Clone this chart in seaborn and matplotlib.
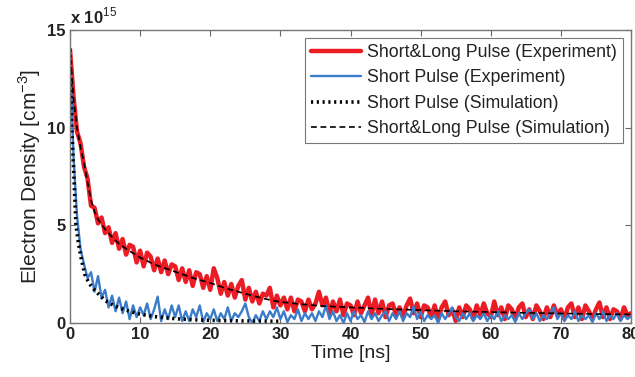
import numpy as np
import pandas as pd
import matplotlib
matplotlib.use("Agg")
import matplotlib.pyplot as plt
import seaborn as sns

# ---------------- data (electron density in units of 1e15 cm^-3) ----------------
time_exp = [i * 0.5 for i in range(161)]  # 0 .. 80 ns, 0.5 ns step

red_exp = [
    14.0, 11.6, 9.8, 9.2, 8.0, 7.4, 6.0, 5.9, 5.1, 5.4,
    4.6, 4.9, 4.1, 4.6, 3.8, 4.3, 3.5, 4.0, 3.9, 3.1,
    3.7, 2.9, 3.6, 3.4, 2.7, 3.3, 2.6, 3.2, 2.5, 3.0,
    2.9, 2.2, 2.8, 2.1, 2.7, 1.9, 2.6, 2.5, 1.8, 2.4,
    1.7, 2.8, 2.3, 1.5, 2.1, 1.4, 2.0, 1.3, 1.9, 2.2,
    1.2, 1.8, 1.1, 1.6, 1.0, 1.5, 1.4, 1.8, 0.8, 1.4,
    0.9, 1.3, 0.7, 1.3, 0.6, 1.2, 1.1, 0.6, 1.2, 0.7,
    1.0, 1.6, 0.9, 1.3, 0.5, 1.1, 0.6, 1.2, 0.4, 1.0,
    0.9, 0.4, 1.1, 0.5, 0.9, 1.3, 0.4, 1.2, 0.5, 1.1,
    0.3, 0.9, 1.0, 0.4, 0.8, 0.3, 0.9, 1.25, 0.5, 1.0,
    0.3, 0.9, 0.8, 0.3, 0.9, 0.2, 0.8, 1.1, 0.4, 0.7,
    0.1, 0.8, 0.3, 0.9, 0.7, 0.2, 0.9, 0.4, 1.0, 0.5,
    0.3, 1.1, 0.4, 0.8, 0.2, 0.9, 0.7, 0.2, 0.8, 1.0,
    0.3, 0.7, 0.2, 0.9, 0.6, 0.2, 0.8, 0.3, 0.9, 0.4,
    0.7, 0.2, 0.8, 1.0, 0.3, 0.8, 0.2, 0.9, 0.6, 0.2,
    0.7, 1.05, 0.3, 0.8, 0.2, 0.7, 0.6, 0.2, 0.8, 0.4,
    0.5,
]

blue_exp = [
    14.0, 8.5, 5.5, 3.8, 3.0, 2.3, 2.6, 1.6, 2.4, 1.3,
    1.7, 0.8, 1.4, 0.6, 1.3, 0.5, 1.1, 0.2, 0.9, 0.3,
    0.8, 0.4, 1.0, 0.2, 0.7, 1.35, 0.1, 0.7, 0.2, 0.9,
    0.3, 0.9, 0.1, 0.6, 0.1, 0.7, 0.3, 0.9, 0.05, 0.5,
    0.2, 0.7, 0.1, 0.5, 0.2, 0.8, 0.1, 0.5, 0.3, 0.6,
    1.0, 0.3, 0.0, 0.4, 0.1, 0.6, 0.2, 0.6, 0.3, 0.8,
    0.2, 0.6, 0.05, 0.4, 0.2, 0.7, 0.1, 0.5, 0.2, 0.5,
    0.1, 0.6, 0.3, 0.9, 0.2, 0.6, 0.1, 0.4, 0.0, 0.5,
    0.1, 0.6, 0.2, 0.4, 0.05, 0.6, 0.2, 0.5, 0.1, 0.4,
    0.6, 0.1, 0.5, 0.2, 0.6, 0.1, 0.5, 0.3, 0.85, 0.2,
    0.6, 0.1, 0.4, 0.2, 0.4, 0.0, 0.5, 0.2, 0.5, 0.8,
    0.3, 0.1, 0.5, 0.2, 0.5, 0.1, 0.4, 0.2, 0.5, 0.1,
    0.4, 0.2, 0.6, 0.1, 0.4, 0.2, 0.4, 0.05, 0.5, 0.2,
    0.5, 0.7, 0.2, 0.5, 0.1, 0.4, 0.2, 0.5, 0.8, 0.2,
    0.5, 0.1, 0.4, 0.2, 0.6, 0.1, 0.4, 0.2, 0.4, 0.05,
    0.5, 0.2, 0.6, 0.1, 0.4, 0.2, 0.5, 0.1, 0.4, 0.2,
    0.35,
]

time_sim_short = [0, 0.25, 0.5, 0.85, 1.2, 1.6, 2.1, 2.5, 3.0, 3.6, 4.3, 5.0,
                  6.0, 7.0, 8.5, 10.0, 12.0, 15.0, 18.0, 22.0, 26.0, 30.0]
sim_short = [14.0, 10.0, 8.0, 5.0, 4.1, 3.3, 2.5, 2.2, 1.9, 1.65, 1.4, 1.15,
             0.95, 0.78, 0.6, 0.45, 0.33, 0.22, 0.16, 0.12, 0.1, 0.09]

time_sim_long = [0, 0.5, 1.0, 1.5, 2.0, 2.5, 3.0, 3.5, 4.0, 5.0, 6.0, 7.0, 8.0,
                 10.0, 12.0, 14.0, 16.0, 18.0, 20.0, 22.0, 24.0, 26.0, 28.0,
                 30.0, 33.0, 36.0, 40.0, 45.0, 50.0, 55.0, 60.0, 65.0, 70.0,
                 75.0, 80.0]
sim_long = [14.0, 11.5, 10.0, 9.0, 8.2, 7.2, 6.3, 5.7, 5.3, 4.8, 4.4, 4.05, 3.8,
            3.35, 3.0, 2.75, 2.5, 2.25, 2.05, 1.8, 1.6, 1.4, 1.22,
            1.08, 0.96, 0.87, 0.8, 0.72, 0.66, 0.6, 0.56, 0.52, 0.49,
            0.46, 0.44]

labels = ["Short&Long Pulse (Experiment)", "Short Pulse (Experiment)",
          "Short Pulse (Simulation)", "Short&Long Pulse (Simulation)"]
x_ticks = [0, 10, 20, 30, 40, 50, 60, 70, 80]
y_ticks = [0, 5, 10, 15]

# ---------------- styling ----------------
sns.set_theme(style="white")
plt.rcParams["font.family"] = ["Liberation Sans", "DejaVu Sans"]
plt.rcParams["mathtext.fontset"] = "custom"
plt.rcParams["mathtext.rm"] = "Liberation Sans"
plt.rcParams["mathtext.bf"] = "Liberation Sans:bold"

fig = plt.figure(figsize=(6.35, 3.77), dpi=100)
ax = fig.add_axes([70 / 635, 1 - 323 / 377, 561 / 635, 293 / 377])

df_red = pd.DataFrame({"t": time_exp, "n": red_exp})
df_blue = pd.DataFrame({"t": time_exp, "n": blue_exp})
df_ss = pd.DataFrame({"t": time_sim_short, "n": sim_short})
df_sl = pd.DataFrame({"t": time_sim_long, "n": sim_long})

sns.lineplot(data=df_red, x="t", y="n", ax=ax, color="#ec1c24", lw=3.2,
             label=labels[0], estimator=None, sort=False)
sns.lineplot(data=df_blue, x="t", y="n", ax=ax, color="#3a7cc9", lw=1.7,
             label=labels[1], estimator=None, sort=False)
sns.lineplot(data=df_ss, x="t", y="n", ax=ax, color="black", lw=2.6,
             linestyle=(0, (0.6, 1.0)), label=labels[2], estimator=None, sort=False)
sns.lineplot(data=df_sl, x="t", y="n", ax=ax, color="black", lw=1.2,
             linestyle=(0, (3.5, 2.2)), label=labels[3], estimator=None, sort=False)

ax.set_xlim(0, 80)
ax.set_ylim(0, 15)
ax.set_xticks(x_ticks)
ax.set_yticks(y_ticks)
ax.set_xticklabels([str(v) for v in x_ticks], fontsize=12, fontweight="bold", color="#222222")
ax.set_yticklabels([str(v) for v in y_ticks], fontsize=12, fontweight="bold", color="#222222")
ax.tick_params(direction="in", length=4, width=0.8, color="#666666",
               top=True, right=True, bottom=True, left=True, pad=3)
for s in ax.spines.values():
    s.set_color("#777777")
    s.set_linewidth(1.0)

ax.set_xlabel("Time [ns]", fontsize=14, color="#222222", labelpad=2)
ax.set_ylabel(r"Electron Density [cm$^{-3}$]", fontsize=15, color="#222222", labelpad=3)
ax.text(0.0, 1.012, r"x 10$^{15}$", transform=ax.transAxes, fontsize=12,
        fontweight="bold", color="#222222", ha="left", va="bottom")

leg = ax.legend(loc="upper right", bbox_to_anchor=(0.986, 0.973), borderaxespad=0,
                fontsize=12.8, frameon=True, fancybox=False, handlelength=2.8,
                handletextpad=0.35, labelspacing=0.47, borderpad=0.35)
leg.get_frame().set_edgecolor("#555555")
leg.get_frame().set_linewidth(0.8)
for t in leg.get_texts():
    t.set_color("#222222")

fig.savefig("out.png", dpi=100)
